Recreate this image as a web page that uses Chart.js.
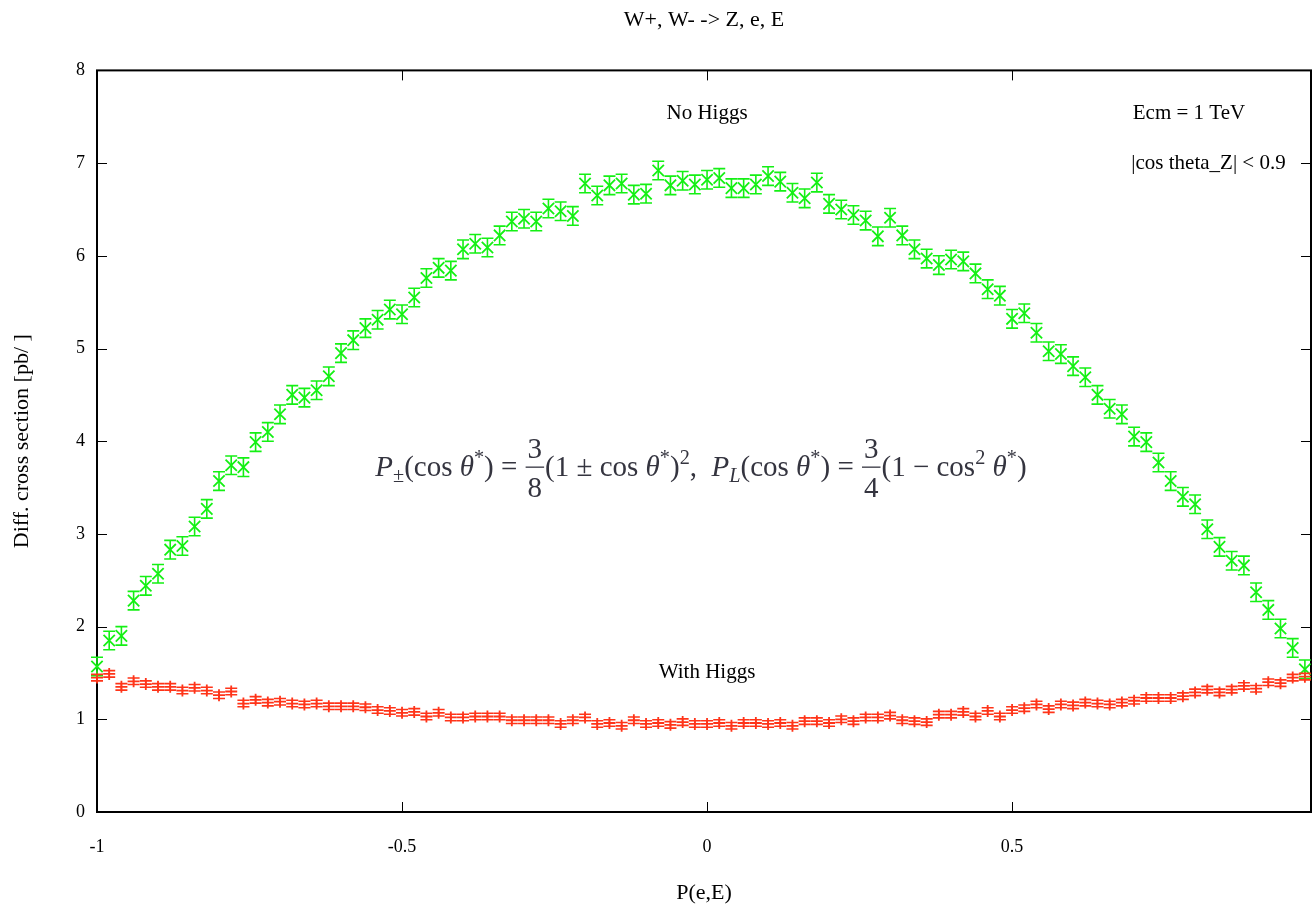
<!DOCTYPE html>
<html>
<head>
<meta charset="utf-8">
<script src="https://cdn.jsdelivr.net/npm/chart.js@4.4.1/dist/chart.umd.min.js"></script>
<style>
  html, body { margin: 0; padding: 0; background: #fff; }
  #wrap { width: 1312px; height: 908px; }
</style>
</head>
<body>
<div id="wrap"><canvas id="chart" width="1312" height="908"></canvas></div>
<script>
// P(e,E) bins
const xValues = [
  -1.00, -0.98, -0.96, -0.94, -0.92, -0.90, -0.88, -0.86, -0.84, -0.82,
  -0.80, -0.78, -0.76, -0.74, -0.72, -0.70, -0.68, -0.66, -0.64, -0.62,
  -0.60, -0.58, -0.56, -0.54, -0.52, -0.50, -0.48, -0.46, -0.44, -0.42,
  -0.40, -0.38, -0.36, -0.34, -0.32, -0.30, -0.28, -0.26, -0.24, -0.22,
  -0.20, -0.18, -0.16, -0.14, -0.12, -0.10, -0.08, -0.06, -0.04, -0.02,
   0.00,  0.02,  0.04,  0.06,  0.08,  0.10,  0.12,  0.14,  0.16,  0.18,
   0.20,  0.22,  0.24,  0.26,  0.28,  0.30,  0.32,  0.34,  0.36,  0.38,
   0.40,  0.42,  0.44,  0.46,  0.48,  0.50,  0.52,  0.54,  0.56,  0.58,
   0.60,  0.62,  0.64,  0.66,  0.68,  0.70,  0.72,  0.74,  0.76,  0.78,
   0.80,  0.82,  0.84,  0.86,  0.88,  0.90,  0.92,  0.94,  0.96,  0.98
];

const noHiggs = [
  1.57, 1.85, 1.90, 2.28, 2.44, 2.57, 2.83, 2.87, 3.08, 3.27,
  3.57, 3.74, 3.72, 3.99, 4.10, 4.29, 4.50, 4.47, 4.55, 4.70,
  4.95, 5.09, 5.22, 5.31, 5.42, 5.37, 5.55, 5.76, 5.87, 5.84,
  6.07, 6.13, 6.09, 6.22, 6.37, 6.40, 6.37, 6.51, 6.48, 6.43,
  6.78, 6.65, 6.76, 6.78, 6.66, 6.67, 6.92, 6.76, 6.81, 6.77,
  6.82, 6.84, 6.73, 6.73, 6.77, 6.86, 6.80, 6.68, 6.62, 6.79,
  6.56, 6.50, 6.44, 6.38, 6.21, 6.41, 6.22, 6.07, 5.97, 5.90,
  5.96, 5.94, 5.81, 5.64, 5.57, 5.32, 5.38, 5.17, 4.97, 4.94,
  4.81, 4.69, 4.50, 4.35, 4.29, 4.05, 3.99, 3.77, 3.57, 3.40,
  3.32, 3.05, 2.86, 2.71, 2.66, 2.37, 2.18, 1.98, 1.77, 1.54
];

const withHiggs = [
  1.45, 1.49, 1.35, 1.41, 1.38, 1.35, 1.35, 1.31, 1.34, 1.31,
  1.26, 1.30, 1.17, 1.21, 1.18, 1.19, 1.17, 1.16, 1.17, 1.14,
  1.14, 1.14, 1.13, 1.10, 1.09, 1.07, 1.08, 1.03, 1.07, 1.02,
  1.02, 1.03, 1.03, 1.03, 0.99, 0.99, 0.99, 0.99, 0.95, 0.99,
  1.02, 0.95, 0.96, 0.93, 0.99, 0.95, 0.96, 0.94, 0.97, 0.95,
  0.95, 0.96, 0.93, 0.96, 0.96, 0.95, 0.96, 0.93, 0.98, 0.98,
  0.96, 1.00, 0.98, 1.02, 1.02, 1.04, 0.99, 0.98, 0.97, 1.05,
  1.05, 1.08, 1.03, 1.09, 1.03, 1.10, 1.12, 1.16, 1.11, 1.16,
  1.15, 1.18, 1.17, 1.16, 1.18, 1.20, 1.23, 1.23, 1.23, 1.25,
  1.29, 1.32, 1.29, 1.32, 1.36, 1.33, 1.40, 1.39, 1.45, 1.46
];

// half-width of the error bars (pb)
const noHiggsErr = 0.1;
const withHiggsErr = 0.035;

const xTicks = [-1, -0.5, 0, 0.5];
const yTicks = [0, 1, 2, 3, 4, 5, 6, 7, 8];

const labels = [
  { text: 'No Higgs', x: 0, y: 7.53 },
  { text: 'Ecm = 1 TeV', x: 0.79, y: 7.53 },
  { text: '|cos theta_Z| < 0.9', x: 0.822, y: 7.0 },
  { text: 'With Higgs', x: 0, y: 1.51 }
];
const formulaPos = { x: -0.01, y: 3.72 };

const serif = '"Liberation Serif", "DejaVu Serif", serif';
const green = '#14f014';
const red = '#ff3419';

const framePlugin = {
  id: 'frame',
  beforeDatasetsDraw(chart) {
    const { ctx, chartArea: a, scales: { x, y } } = chart;
    ctx.save();
    ctx.strokeStyle = '#000';
    ctx.lineWidth = 1;
    ctx.beginPath();
    for (const t of x.ticks) {
      const px = Math.round(x.getPixelForValue(t.value)) + 0.5;
      ctx.moveTo(px, a.bottom); ctx.lineTo(px, a.bottom - 10);
      ctx.moveTo(px, a.top); ctx.lineTo(px, a.top + 10);
    }
    for (const t of y.ticks) {
      const py = Math.round(y.getPixelForValue(t.value)) + 0.5;
      ctx.moveTo(a.left, py); ctx.lineTo(a.left + 10, py);
      ctx.moveTo(a.right, py); ctx.lineTo(a.right - 10, py);
    }
    ctx.stroke();
    ctx.lineWidth = 2;
    ctx.strokeRect(a.left, a.top, a.right - a.left, a.bottom - a.top);
    ctx.restore();
  }
};

const errorBarPlugin = {
  id: 'errorBars',
  afterDatasetsDraw(chart) {
    const { ctx, scales: { x, y } } = chart;
    chart.data.datasets.forEach((ds) => {
      ctx.save();
      ctx.strokeStyle = ds.borderColor;
      ctx.lineWidth = 1.6;
      ctx.beginPath();
      ds.data.forEach((p) => {
        const px = x.getPixelForValue(p.x);
        const top = y.getPixelForValue(p.y + ds.errBar);
        const bot = y.getPixelForValue(p.y - ds.errBar);
        ctx.moveTo(px, top); ctx.lineTo(px, bot);
        ctx.moveTo(px - 6, top); ctx.lineTo(px + 6, top);
        ctx.moveTo(px - 6, bot); ctx.lineTo(px + 6, bot);
      });
      ctx.stroke();
      ctx.restore();
    });
  }
};

function drawFormula(ctx, cx, cy) {
  const fs = 29;
  const pieces = [
    ['P', 'i'], ['±', 'sub'], ['(cos ', 'n'], ['θ', 'i'], ['*', 'sup'], [') = ', 'n'],
    ['3', 'frac', '8'], ['(1 ± cos ', 'n'], ['θ', 'i'], ['*', 'sup'], [')', 'n'], ['2', 'sup'],
    [',  ', 'n'], ['P', 'i'], ['L', 'subi'], ['(cos ', 'n'], ['θ', 'i'], ['*', 'sup'], [') = ', 'n'],
    ['3', 'frac', '4'], ['(1 − cos', 'n'], ['2', 'sup'], [' ', 'n'], ['θ', 'i'], ['*', 'sup'], [')', 'n']
  ];
  const fontFor = (k) => {
    if (k === 'i') return `italic ${fs}px ${serif}`;
    if (k === 'subi') return `italic ${fs * 0.7}px ${serif}`;
    if (k === 'sub' || k === 'sup') return `${fs * 0.7}px ${serif}`;
    return `${fs}px ${serif}`;
  };
  const widths = pieces.map(([t, k, d]) => {
    ctx.font = fontFor(k);
    if (k === 'frac') return Math.max(ctx.measureText(t).width, ctx.measureText(d).width) + 6;
    return ctx.measureText(t).width;
  });
  const total = widths.reduce((s, w) => s + w, 0);
  let px = cx - total / 2;
  const base = cy + fs * 0.3;
  ctx.save();
  ctx.fillStyle = '#34343f';
  ctx.strokeStyle = '#34343f';
  ctx.textBaseline = 'alphabetic';
  pieces.forEach(([t, k, d], i) => {
    const w = widths[i];
    ctx.font = fontFor(k);
    if (k === 'frac') {
      ctx.textAlign = 'center';
      ctx.fillText(t, px + w / 2, base - fs * 0.6);
      ctx.fillText(d, px + w / 2, base + fs * 0.72);
      ctx.lineWidth = 1.3;
      ctx.beginPath();
      ctx.moveTo(px + 1, base - fs * 0.3); ctx.lineTo(px + w - 1, base - fs * 0.3);
      ctx.stroke();
    } else {
      ctx.textAlign = 'left';
      let dy = 0;
      if (k === 'sup') dy = -fs * 0.42;
      if (k === 'sub' || k === 'subi') dy = fs * 0.22;
      ctx.fillText(t, px, base + dy);
    }
    px += w;
  });
  ctx.restore();
}

const labelPlugin = {
  id: 'labels',
  afterDraw(chart) {
    const { ctx, scales: { x, y } } = chart;
    ctx.save();
    ctx.fillStyle = '#000';
    ctx.font = `21px ${serif}`;
    ctx.textAlign = 'center';
    ctx.textBaseline = 'middle';
    for (const l of labels) {
      ctx.fillText(l.text, x.getPixelForValue(l.x), y.getPixelForValue(l.y));
    }
    ctx.restore();
    drawFormula(ctx, x.getPixelForValue(formulaPos.x), y.getPixelForValue(formulaPos.y));
  }
};

const ctx = document.getElementById('chart');
new Chart(ctx, {
  type: 'scatter',
  data: {
    datasets: [
      {
        label: 'No Higgs',
        data: xValues.map((x, i) => ({ x, y: noHiggs[i] })),
        pointStyle: 'crossRot',
        pointRadius: 8,
        borderColor: green,
        backgroundColor: green,
        pointBorderWidth: 1.8,
        errBar: noHiggsErr,
        clip: false
      },
      {
        label: 'With Higgs',
        data: xValues.map((x, i) => ({ x, y: withHiggs[i] })),
        pointStyle: 'cross',
        pointRadius: 6,
        borderColor: red,
        backgroundColor: red,
        pointBorderWidth: 1.8,
        errBar: withHiggsErr,
        clip: false
      }
    ]
  },
  options: {
    responsive: false,
    animation: false,
    layout: { autoPadding: false, padding: { top: 0, right: 1, bottom: 0, left: 0 } },
    plugins: {
      legend: { display: false },
      tooltip: { enabled: false },
      title: {
        display: true,
        fullSize: false,
        text: 'W+, W- -> Z, e, E',
        color: '#000',
        font: { family: serif, size: 22, weight: 'normal' },
        padding: { top: 7, bottom: 37 }
      }
    },
    scales: {
      x: {
        type: 'linear',
        min: -1,
        max: 0.99,
        afterBuildTicks: (s) => { s.ticks = xTicks.map((v) => ({ value: v })); },
        afterFit: (s) => { s.height = 96; s.paddingLeft = 0; s.paddingRight = 0; },
        grid: { display: false, drawTicks: false },
        border: { display: false },
        ticks: {
          autoSkip: false,
          maxRotation: 0,
          padding: 24,
          color: '#000',
          font: { family: serif, size: 18 },
          callback: (v) => String(v)
        },
        title: {
          display: true,
          text: 'P(e,E)',
          color: '#000',
          font: { family: serif, size: 22 },
          padding: { top: 0, bottom: 2 }
        }
      },
      y: {
        min: 0,
        max: 8,
        afterBuildTicks: (s) => { s.ticks = yTicks.map((v) => ({ value: v })); },
        afterFit: (s) => { s.width = 97; },
        grid: { display: false, drawTicks: false },
        border: { display: false },
        ticks: {
          padding: 12,
          color: '#000',
          font: { family: serif, size: 18 },
          callback: (v) => String(v)
        },
        title: {
          display: true,
          text: 'Diff. cross section [pb/ ]',
          color: '#000',
          font: { family: serif, size: 22 },
          padding: { top: 9, bottom: 0 }
        }
      }
    }
  },
  plugins: [framePlugin, errorBarPlugin, labelPlugin]
});
</script>
</body>
</html>
